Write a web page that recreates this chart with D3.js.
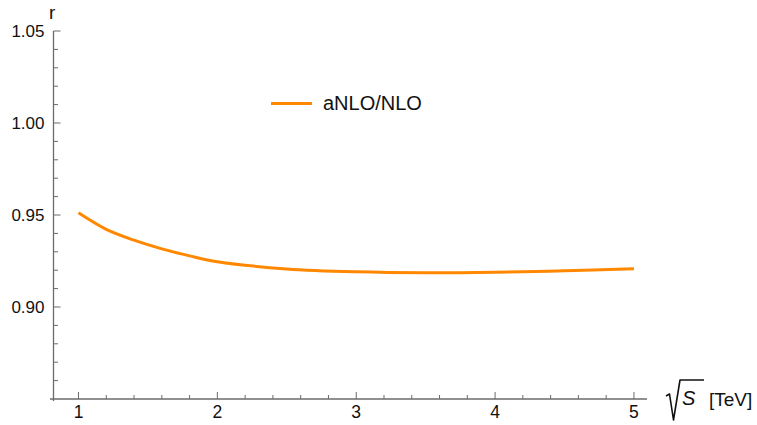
<!DOCTYPE html>
<html>
<head>
<meta charset="utf-8">
<script src="https://cdn.jsdelivr.net/npm/d3@7"></script>
<style>
  body { margin: 0; background: #fff; }
  text { font-family: "Liberation Sans", Arial, sans-serif; fill: #111; }
</style>
</head>
<body>
<div id="chart"></div>
<script>
// curve
var sqrtS = [1.0, 1.2, 1.4, 1.6, 1.8, 2.0, 2.5, 3.0, 3.5, 4.0, 4.5, 5.0];
var ratio = [0.9512, 0.9422, 0.9363, 0.9316, 0.9278, 0.9246, 0.9207, 0.9191, 0.9186, 0.9189, 0.9197, 0.9208];
var xTicks = [1, 2, 3, 4, 5];
var yTicks = [0.90, 0.95, 1.00, 1.05];
var seriesName = "aNLO/NLO";

var W = 757, H = 425;
var axisColor = "#6b6b6b", lineColor = "#ff8800";

var svg = d3.select("#chart").append("svg")
    .attr("width", W).attr("height", H);

var x = d3.scaleLinear().domain([0.82, 5.094]).range([53.5, 647]);
var y = d3.scaleLinear().domain([0.85, 1.05]).range([399, 31]);

// x axis (ticks inward)
var xMinor = d3.range(0.2, 5.05, 0.2).filter(function(d) {
    return Math.abs(d - Math.round(d)) > 1e-6 && d > 0.82;
});
var gx = svg.append("g").attr("transform", "translate(0,399)");
gx.append("line").attr("x1", 50).attr("x2", 647).attr("stroke", axisColor).attr("stroke-width", 1.3);
gx.selectAll(".maj").data(xTicks).enter().append("line")
    .attr("x1", function(d) { return x(d); }).attr("x2", function(d) { return x(d); })
    .attr("y1", 0).attr("y2", -7).attr("stroke", axisColor);
gx.selectAll(".min").data(xMinor).enter().append("line")
    .attr("x1", function(d) { return x(d); }).attr("x2", function(d) { return x(d); })
    .attr("y1", 0).attr("y2", -4).attr("stroke", axisColor);
gx.selectAll(".lab").data(xTicks).enter().append("text")
    .attr("x", function(d) { return x(d); }).attr("y", 19)
    .attr("text-anchor", "middle").attr("font-size", 17.5)
    .text(function(d) { return d; });

// y axis
var yMinor = d3.range(0.86, 1.05, 0.01).filter(function(d) {
    return Math.abs(d * 20 - Math.round(d * 20)) > 1e-6;
});
var gy = svg.append("g").attr("transform", "translate(53.5,0)");
gy.append("line").attr("y1", 31).attr("y2", 401).attr("stroke", axisColor).attr("stroke-width", 1.3);
gy.selectAll(".maj").data(yTicks).enter().append("line")
    .attr("y1", function(d) { return y(d); }).attr("y2", function(d) { return y(d); })
    .attr("x1", 0).attr("x2", 7).attr("stroke", axisColor);
gy.selectAll(".min").data(yMinor).enter().append("line")
    .attr("y1", function(d) { return y(d); }).attr("y2", function(d) { return y(d); })
    .attr("x1", 0).attr("x2", 4.5).attr("stroke", axisColor);
gy.selectAll(".lab").data(yTicks).enter().append("text")
    .attr("x", -9).attr("y", function(d) { return y(d) + 6; })
    .attr("text-anchor", "end").attr("font-size", 17)
    .text(function(d) { return d.toFixed(2); });

// axis labels
svg.append("text").attr("x", 49).attr("y", 19).attr("font-size", 19).text("r");

var xl = svg.append("g");
xl.append("path")
    .attr("d", "M666,396 L669.5,394 L673.5,420 L680,380 L704,380")
    .attr("fill", "none").attr("stroke", "#111").attr("stroke-width", 1.6)
    .attr("stroke-linejoin", "round");
xl.append("text").attr("x", 682).attr("y", 405).attr("font-size", 20)
    .attr("font-style", "italic").text("S");
xl.append("text").attr("x", 709).attr("y", 406).attr("font-size", 19).text("[TeV]");

// curve
var line = d3.line()
    .x(function(d) { return x(d[0]); })
    .y(function(d) { return y(d[1]); })
    .curve(d3.curveCatmullRom);
svg.append("path")
    .datum(d3.zip(sqrtS, ratio))
    .attr("d", line)
    .attr("fill", "none").attr("stroke", lineColor).attr("stroke-width", 3);

// legend
var lg = svg.append("g");
lg.append("line").attr("x1", 271).attr("x2", 312).attr("y1", 103.5).attr("y2", 103.5)
    .attr("stroke", lineColor).attr("stroke-width", 3);
lg.append("text").attr("x", 323).attr("y", 110).attr("font-size", 20).text(seriesName);
</script>
</body>
</html>
